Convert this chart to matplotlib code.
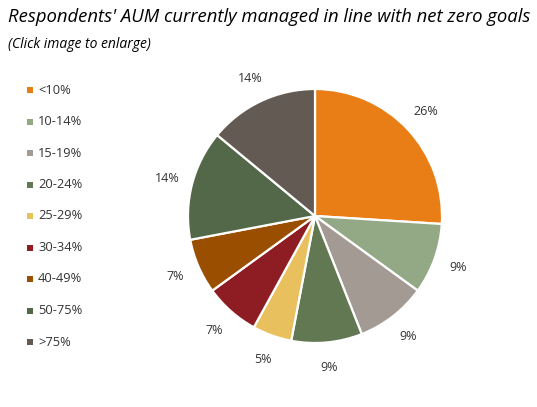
import matplotlib
matplotlib.use('Agg')
import matplotlib.pyplot as plt
from matplotlib.patches import Rectangle

# ─── данные ─────────────────────────────────────────────────────────
categories = ['<10%', '10-14%', '15-19%', '20-24%', '25-29%', '30-34%', '40-49%', '50-75%', '>75%']
shares = [26, 9, 9, 9, 5, 7, 7, 14, 14]
colors = ['#E97E16', '#93A986', '#A39A94', '#627852', '#E9C05E', '#8E1D23', '#9A4E00', '#536849', '#625A53']

TITLE = "Respondents' AUM currently managed in line with net zero goals"
SUBTITLE = "(Click image to enlarge)"

W, H = 537, 407
fig = plt.figure(figsize=(W / 100, H / 100), dpi=100)
fig.patch.set_facecolor('white')

# ─── заголовок ──────────────────────────────────────────────────────
fig.text(8 / W, 1 - 17 / H, TITLE, fontsize=13.3, style='italic', family='Open Sans',
         color='black', va='center', ha='left')
fig.text(8 / W, 1 - 44 / H, SUBTITLE, fontsize=10, style='italic', family='Open Sans',
         color='black', va='center', ha='left')

# ─── пирог ──────────────────────────────────────────────────────────
cx, cy, r = 315, 216, 127
ax = fig.add_axes([(cx - r) / W, 1 - (cy + r) / H, 2 * r / W, 2 * r / H])
wedges, texts, autotexts = ax.pie(
    shares, colors=colors, startangle=90, counterclock=False, radius=1,
    autopct=lambda p: f'{p:.0f}%', pctdistance=1.2,
    wedgeprops=dict(edgecolor='white', linewidth=1.6))
for t in autotexts:
    t.set_fontsize(9)
    t.set_color('#333333')
    t.set_family('Open Sans')
ax.set_xlim(-1, 1)
ax.set_ylim(-1, 1)
ax.set_aspect('equal')
ax.axis('off')

# ─── легенда ────────────────────────────────────────────────────────
y0, step = 90, 31.5
for i, (cat, col) in enumerate(zip(categories, colors)):
    y = y0 + i * step
    fig.patches.append(Rectangle((27 / W, 1 - (y + 3) / H), 6 / W, 6 / H,
                                 transform=fig.transFigure, facecolor=col, edgecolor='none'))
    fig.text(38 / W, 1 - y / H, cat, fontsize=9.3, family='Open Sans',
             color='#333333', va='center', ha='left')

fig.savefig('out.png', dpi=100)
